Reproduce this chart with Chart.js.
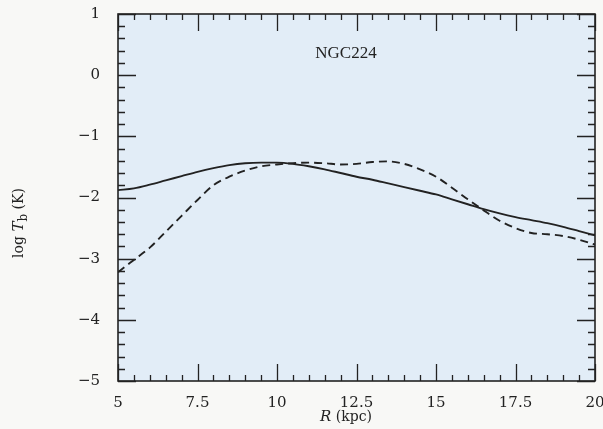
<!DOCTYPE html>
<html>
<head>
<meta charset="utf-8">
<script src="https://cdn.jsdelivr.net/npm/chart.js@4.4.1/dist/chart.umd.min.js"></script>
<style>
html,body{margin:0;padding:0;background:#f8f8f6;}
#wrap{width:603px;height:429px;position:relative;}
</style>
</head>
<body>
<div id="wrap"><canvas id="c" width="603" height="429"></canvas></div>
<script>
// ---- data ----
const solidR = [5,5.5,6,6.5,7,7.5,8,8.5,9,9.5,10,10.5,11,11.5,12,12.5,13,13.5,14,14.5,15,15.5,16,16.5,17,17.5,18,18.5,19,19.5,20];
const solidT = [-1.88,-1.85,-1.79,-1.72,-1.65,-1.58,-1.52,-1.47,-1.44,-1.43,-1.43,-1.45,-1.49,-1.54,-1.60,-1.66,-1.71,-1.77,-1.83,-1.89,-1.95,-2.03,-2.11,-2.19,-2.26,-2.32,-2.37,-2.42,-2.48,-2.55,-2.62];
const dashR = [5,5.5,6,6.5,7,7.5,8,8.5,9,9.5,10,10.5,11,11.5,12,12.5,13,13.5,14,14.5,15,15.5,16,16.5,17,17.5,18,18.5,19,19.5,20];
const dashT = [-3.22,-3.02,-2.82,-2.56,-2.30,-2.04,-1.80,-1.66,-1.56,-1.49,-1.46,-1.44,-1.43,-1.44,-1.46,-1.45,-1.42,-1.41,-1.45,-1.54,-1.66,-1.84,-2.03,-2.21,-2.38,-2.50,-2.58,-2.60,-2.63,-2.69,-2.77];
const xTickValues = [5,7.5,10,12.5,15,17.5,20];
const xTickLabels = ['5','7.5','10','12.5','15','17.5','20'];
const yTickValues = [1,0,-1,-2,-3,-4,-5];
const yTickLabels = ['1','0','\u22121','\u22122','\u22123','\u22124','\u22125'];
const galaxyLabel = 'NGC224';

const INK = '#222222';

const frame = {
  id:'frame',
  beforeDraw(chart){
    const {ctx, chartArea:a} = chart;
    ctx.save();
    ctx.fillStyle = '#e2edf7';
    ctx.fillRect(a.left, a.top, a.right-a.left, a.bottom-a.top);
    ctx.restore();
  },
  afterDraw(chart){
    const {ctx, chartArea:a, scales:{x,y}} = chart;
    ctx.save();
    ctx.strokeStyle = INK;
    ctx.lineWidth = 1.6;
    ctx.strokeRect(a.left, a.top, a.right-a.left, a.bottom-a.top);
    ctx.lineWidth = 1.3;
    ctx.beginPath();
    for (let i=0;i<=30;i++){
      const v = 5 + i*0.5;
      const px = Math.round(x.getPixelForValue(v))+0.5;
      const len = (i%5===0) ? 17 : 6;
      ctx.moveTo(px, a.bottom); ctx.lineTo(px, a.bottom-len);
      ctx.moveTo(px, a.top); ctx.lineTo(px, a.top+len);
    }
    for (let i=0;i<=30;i++){
      const v = -5 + i*0.2;
      const py = Math.round(y.getPixelForValue(v))+0.5;
      const len = (i%5===0) ? 18 : 7;
      ctx.moveTo(a.left, py); ctx.lineTo(a.left+len, py);
      ctx.moveTo(a.right, py); ctx.lineTo(a.right-len, py);
    }
    ctx.stroke();
    // galaxy label
    ctx.fillStyle = INK;
    ctx.font = '17px "Liberation Serif", serif';
    ctx.textAlign = 'center'; ctx.textBaseline = 'middle';
    ctx.fillText(galaxyLabel, 346, 54);
    // x title
    ctx.textAlign = 'left'; ctx.textBaseline = 'alphabetic';
    const xparts = [['R','italic 15px "DejaVu Serif", serif'],[' (kpc)','14px "DejaVu Serif", serif']];
    let tw = 0;
    xparts.forEach(p=>{ctx.font=p[1]; tw += ctx.measureText(p[0]).width;});
    let sx = 346 - tw/2;
    xparts.forEach(p=>{ctx.font=p[1]; ctx.fillText(p[0], sx, 421); sx += ctx.measureText(p[0]).width;});
    // y title rotated
    ctx.translate(23, 223);
    ctx.rotate(-Math.PI/2);
    const parts = [['log ','14px "DejaVu Serif", serif',0],['T','italic 15px "DejaVu Serif", serif',0],['b','12px "DejaVu Serif", serif',4],[' (K)','14px "DejaVu Serif", serif',0]];
    let tot = 0;
    parts.forEach(p=>{ctx.font=p[1]; tot += ctx.measureText(p[0]).width;});
    let cx = -tot/2;
    parts.forEach(p=>{ctx.font=p[1]; ctx.fillText(p[0], cx, p[2]); cx += ctx.measureText(p[0]).width;});
    ctx.restore();
  }
};

new Chart(document.getElementById('c'), {
  type:'line',
  data:{
    datasets:[
      {data: solidR.map((r,i)=>({x:r,y:solidT[i]})), borderColor:INK, borderWidth:1.9, pointRadius:0, cubicInterpolationMode:'monotone', fill:false},
      {data: dashR.map((r,i)=>({x:r,y:dashT[i]})), borderColor:INK, borderWidth:1.9, borderDash:[8,5], pointRadius:0, cubicInterpolationMode:'monotone', fill:false}
    ]
  },
  options:{
    responsive:false, animation:false,
    layout:{padding:{left:0,right:8,top:14,bottom:0}},
    plugins:{legend:{display:false}, tooltip:{enabled:false}},
    scales:{
      x:{type:'linear', min:5, max:20,
        afterBuildTicks(s){ s.ticks = xTickValues.map(v=>({value:v})); },
        afterFit(s){ s.height = 48; s.paddingLeft = 0; s.paddingRight = 0; },
        grid:{display:false}, border:{display:false},
        ticks:{color:INK, font:{family:'"DejaVu Serif", serif', size:15}, padding:5, maxRotation:0, autoSkip:false,
          callback:(v)=>{const i=xTickValues.indexOf(v); return i>=0?xTickLabels[i]:'';}}
      },
      y:{type:'linear', min:-5, max:1,
        afterBuildTicks(s){ s.ticks = yTickValues.map(v=>({value:v})); },
        afterFit(s){ s.width = 118; s.paddingTop = 0; s.paddingBottom = 0; },
        grid:{display:false}, border:{display:false},
        ticks:{color:INK, font:{family:'"DejaVu Serif", serif', size:15}, padding:10, autoSkip:false,
          callback:(v)=>{const i=yTickValues.indexOf(v); return i>=0?yTickLabels[i]:'';}}
      }
    }
  },
  plugins:[frame]
});
</script>
</body>
</html>
